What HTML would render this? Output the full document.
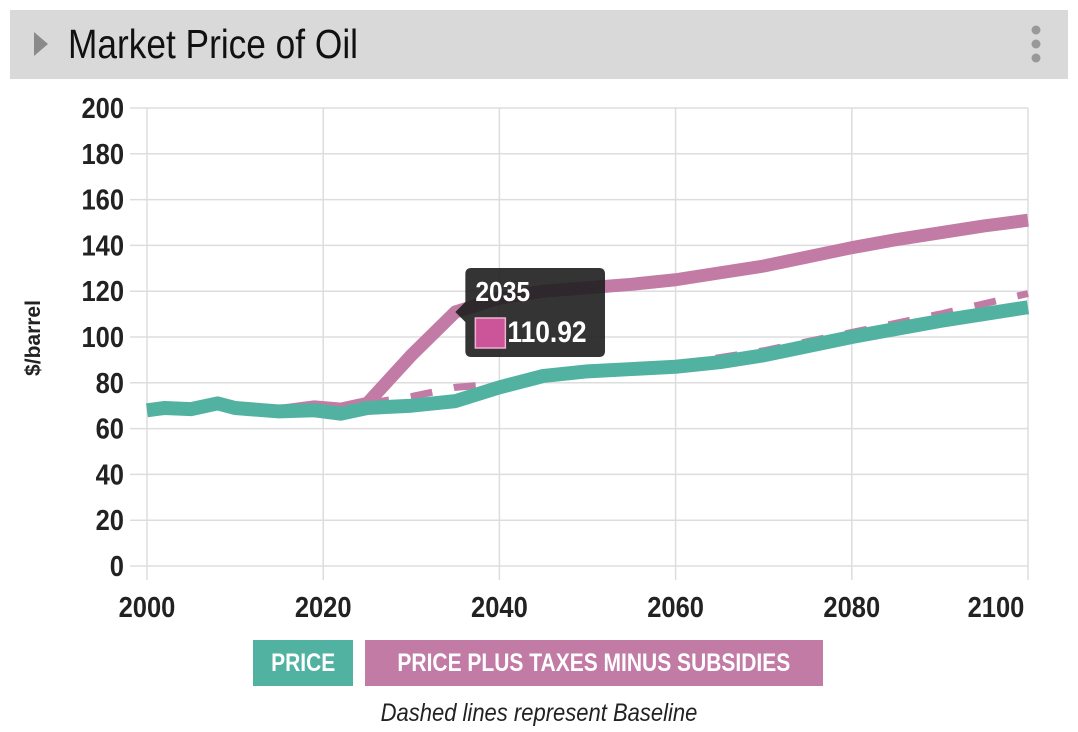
<!DOCTYPE html>
<html><head><meta charset="utf-8"><style>
body{margin:0;width:1078px;height:732px;background:#fff;overflow:hidden;font-family:"Liberation Sans Narrow","Liberation Sans",sans-serif;}
.hdr{position:absolute;left:10px;top:10px;width:1058px;height:69px;background:#d9d9d9;}
.hdr .t{position:absolute;left:58px;top:11px;font-size:41px;color:#111;transform:scaleX(.86);transform-origin:left;white-space:nowrap}
.leg{position:absolute;top:640px;height:46px;line-height:46px;color:#fff;font-weight:bold;font-size:25px;white-space:nowrap;display:flex;justify-content:center}
.leg span{display:inline-block;transform:scaleX(.84)}
</style></head><body>
<div class="hdr">
<svg style="position:absolute;left:22px;top:20px" width="20" height="30"><polygon points="2,2 16,14 2,26" fill="#8a8a8a"/></svg>
<div class="t">Market Price of Oil</div>
<svg style="position:absolute;left:1018px;top:14px" width="16" height="42"><circle cx="8" cy="6" r="4.5" fill="#999"/><circle cx="8" cy="20" r="4.5" fill="#999"/><circle cx="8" cy="34" r="4.5" fill="#999"/></svg>
</div>
<svg id="c" width="1078" height="732" style="position:absolute;left:0;top:0"></svg>
<div class="leg" style="left:253px;width:100px;background:#52b2a2"><span>PRICE</span></div>
<div class="leg" style="left:365px;width:458px;background:#c27ba5"><span>PRICE PLUS TAXES MINUS SUBSIDIES</span></div>
<div style="position:absolute;left:0;width:1078px;top:699px;text-align:center;font-style:italic;font-size:25px;color:#222;display:flex;justify-content:center"><span style="display:inline-block;transform:scaleX(.88);white-space:nowrap">Dashed lines represent Baseline</span></div>
<script>
const years=[2000,2002,2005,2008,2010,2015,2019,2022,2025,2030,2035,2040,2045,2050,2055,2060,2065,2070,2075,2080,2085,2090,2095,2100];
const price=[68,69,68.5,71,69,67.5,68,66.5,69,70,72,78,83,85,86,87,89,92,96,100,103.5,107,110,113];
const pricePlus=[68,69,68.5,71,69,67.5,69.5,68.5,71,92,110.92,117,120,121.5,123,125,128,131,135,139,142.5,145.5,148.5,151];
const baseYears=[2025,2030,2035,2040,2045,2050,2060,2070,2080,2090,2100];
const baseline=[71,74,78,79.5,83.5,86,88,94,102,110,119];
const yTicks=[0,20,40,60,80,100,120,140,160,180,200];
const xTicks=[2000,2020,2040,2060,2080,2100];
const NS="http://www.w3.org/2000/svg",svg=document.getElementById('c');
const X=v=>147+(v-2000)*8.81, Y=v=>566-v*2.29;
const F='Liberation Sans Narrow,Liberation Sans,sans-serif';
function mk(t,a){const e=document.createElementNS(NS,t);for(const k in a)e.setAttribute(k,a[k]);svg.appendChild(e);return e;}
yTicks.forEach(v=>{const l=mk('line',{x1:130,x2:1028,y1:Y(v),y2:Y(v),stroke:'#ddd','stroke-width':1.5});

const t=mk('text',{x:124,y:Y(v)+10,'text-anchor':'end','font-size':29,'font-weight':'bold',fill:'#222','font-family':F,transform:`translate(124 0) scale(.88 1) translate(-124 0)`});t.textContent=v;
});
xTicks.forEach(v=>{const l=mk('line',{x1:X(v),x2:X(v),y1:108,y2:580,stroke:'#ddd','stroke-width':1.5});

const cx=X(v)-(v==2100?32:0);
const t=mk('text',{x:cx,y:617,'text-anchor':'middle','font-size':29,'font-weight':'bold',fill:'#222','font-family':F,transform:`translate(${cx} 0) scale(.88 1) translate(${-cx} 0)`});t.textContent=v;
});
const yt=mk('text',{x:0,y:0,transform:'translate(40,338) rotate(-90)','text-anchor':'middle','font-size':21,'font-weight':'bold',fill:'#222','font-family':F});yt.textContent='$/barrel';

const pts=(xs,ys)=>xs.map((x,i)=>X(x)+','+Y(ys[i])).join(' ');
const bl=mk('polyline',{points:pts(baseYears,baseline),fill:'none',stroke:'#c27ba5','stroke-width':7,'stroke-dasharray':'22 22'});

const p2=mk('polyline',{points:pts(years,pricePlus),fill:'none',stroke:'#c27ba5','stroke-width':13,'stroke-linejoin':'round'});

const p1=mk('polyline',{points:pts(years,price),fill:'none',stroke:'#52b2a2','stroke-width':14,'stroke-linejoin':'round'});

const tx=X(2035),ty=Y(110.92);
const g=mk('g',{});
g.innerHTML=`<path d="M${tx} ${ty} L${tx+10} ${ty-10} L${tx+10} 274 Q${tx+10} 268 ${tx+16} 268 L599 268 Q605 268 605 274 L605 351 Q605 357 599 357 L${tx+16} 357 Q${tx+10} 357 ${tx+10} 351 L${tx+10} ${ty+10} Z" fill="rgba(30,30,30,0.9)"/>
<text x="${tx+20}" y="301" font-size="28" font-weight="bold" fill="#fff" font-family="${F}" transform="translate(${tx+20} 0) scale(.88 1) translate(${-tx-20} 0)">2035</text>
<rect x="${tx+20}" y="318" width="30" height="30" fill="#cc5599" stroke="#f0b0d0" stroke-width="1.5"/>
<text x="${tx+52}" y="342" font-size="30" font-weight="bold" fill="#fff" font-family="${F}" transform="translate(${tx+52} 0) scale(.88 1) translate(${-tx-52} 0)">110.92</text>`;
</script>
</body></html>
